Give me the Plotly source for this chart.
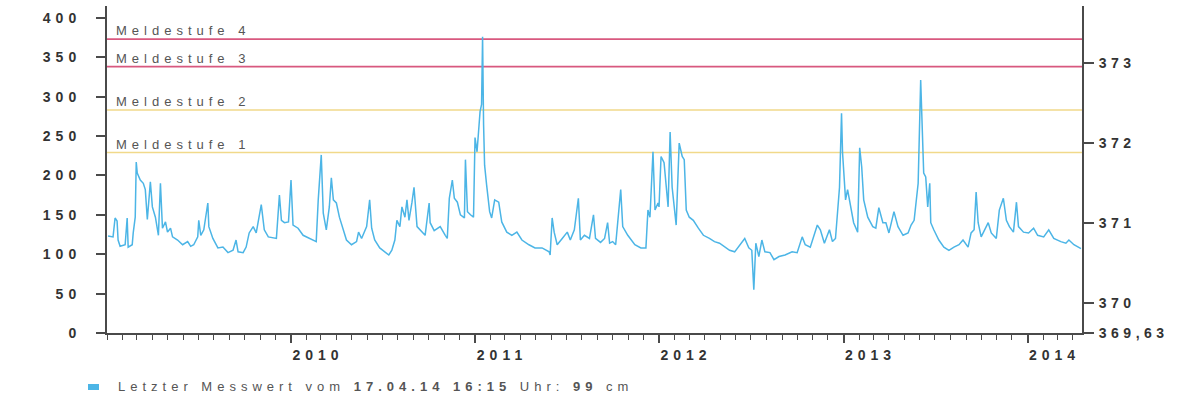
import plotly.graph_objects as go

# ---------------- data: water level (cm) ----------------
dates_2009 = ["2009-01-03","2009-01-13","2009-01-17","2009-01-21","2009-01-23","2009-01-27","2009-02-06","2009-02-10",
              "2009-02-12","2009-02-20","2009-02-22","2009-02-26","2009-02-28","2009-03-02","2009-03-08","2009-03-14",
              "2009-03-18","2009-03-22","2009-03-28","2009-04-01","2009-04-07","2009-04-13","2009-04-17","2009-04-21",
              "2009-04-27","2009-05-01","2009-05-07","2009-05-11","2009-05-21","2009-05-31","2009-06-10","2009-06-16",
              "2009-06-22","2009-06-30","2009-07-02","2009-07-06","2009-07-12","2009-07-20","2009-07-22","2009-07-30",
              "2009-08-09","2009-08-19","2009-08-29","2009-09-08","2009-09-14","2009-09-18","2009-09-28","2009-10-04",
              "2009-10-10","2009-10-18","2009-10-24","2009-11-03","2009-11-09","2009-11-17","2009-12-03","2009-12-09",
              "2009-12-13","2009-12-19","2009-12-27"]
level_2009 = [123,122,146,142,118,110,112,146,
              109,112,127,147,217,203,194,190,
              182,144,192,160,147,124,190,133,
              141,128,133,122,118,112,116,110,
              112,122,143,124,131,165,135,120,
              108,109,102,105,118,103,102,109,
              127,135,127,163,131,122,120,175,
              143,140,141]

dates_2010 = ["2010-01-01","2010-01-05","2010-01-15","2010-01-25","2010-02-06","2010-02-20","2010-02-24","2010-03-02",
              "2010-03-06","2010-03-12","2010-03-18","2010-03-22","2010-03-26","2010-04-01","2010-04-07","2010-04-15",
              "2010-04-21","2010-05-01","2010-05-11","2010-05-15","2010-05-21","2010-05-31","2010-06-06","2010-06-10",
              "2010-06-16","2010-06-26","2010-07-06","2010-07-14","2010-07-20","2010-07-26","2010-07-30","2010-08-05",
              "2010-08-09","2010-08-15","2010-08-19","2010-08-23","2010-08-29","2010-09-02","2010-09-08","2010-09-18",
              "2010-09-24","2010-10-02","2010-10-04","2010-10-12","2010-10-24","2010-11-03","2010-11-07","2010-11-11",
              "2010-11-17","2010-11-21","2010-11-27","2010-12-03","2010-12-11","2010-12-13","2010-12-17","2010-12-23",
              "2010-12-29"]
level_2010 = [194,137,133,124,120,116,169,226,
              152,131,160,197,169,165,147,131,
              118,112,116,128,120,135,169,133,
              118,108,103,99,105,118,143,135,
              160,147,169,143,166,185,135,128,
              124,165,140,130,135,124,120,171,
              194,171,166,150,146,220,154,150,
              147]

dates_2011 = ["2011-01-01","2011-01-05","2011-01-09","2011-01-11","2011-01-14","2011-01-16","2011-01-18","2011-01-20",
              "2011-01-24","2011-01-30","2011-02-03","2011-02-09","2011-02-17","2011-02-23","2011-03-05","2011-03-15",
              "2011-03-25","2011-04-04","2011-04-18","2011-04-30","2011-05-14","2011-05-28","2011-05-30","2011-06-03",
              "2011-06-07","2011-06-13","2011-06-23","2011-07-03","2011-07-09","2011-07-17","2011-07-25","2011-07-29",
              "2011-08-06","2011-08-16","2011-08-24","2011-08-28","2011-09-07","2011-09-15","2011-09-21","2011-09-25",
              "2011-10-01","2011-10-07","2011-10-17","2011-10-21","2011-10-31","2011-11-14","2011-11-26","2011-12-06",
              "2011-12-10","2011-12-14","2011-12-20","2011-12-24","2011-12-30"]
level_2011 = [248,230,264,281,290,376,264,213,
              188,154,146,169,166,141,128,124,
              128,118,112,108,108,103,99,146,
              128,112,120,128,118,131,171,118,
              124,120,150,120,115,120,140,114,
              116,112,182,135,124,112,108,108,
              156,147,230,156,165]

dates_2012 = ["2012-01-01","2012-01-05","2012-01-11","2012-01-19","2012-01-23","2012-01-27","2012-01-31","2012-02-04",
              "2012-02-10","2012-02-16","2012-02-20","2012-02-24","2012-03-01","2012-03-09","2012-03-19","2012-03-29",
              "2012-04-10","2012-04-20","2012-04-30","2012-05-10","2012-05-20","2012-05-30","2012-06-09","2012-06-19",
              "2012-06-27","2012-07-03","2012-07-07","2012-07-11","2012-07-17","2012-07-23","2012-07-29","2012-08-08",
              "2012-08-16","2012-08-26","2012-09-07","2012-09-21","2012-10-01","2012-10-11","2012-10-17","2012-10-27",
              "2012-11-10","2012-11-16","2012-11-24","2012-12-04","2012-12-10","2012-12-16","2012-12-24","2012-12-28",
              "2012-12-30"]
level_2012 = [160,224,216,160,255,185,156,137,
              241,224,220,156,147,143,133,124,
              120,116,114,109,105,103,112,120,
              108,105,55,114,97,118,103,102,
              93,97,99,103,102,122,112,109,
              137,131,114,131,116,120,185,279,
              229]

dates_2013 = ["2013-01-01","2013-01-05","2013-01-09","2013-01-15","2013-01-21","2013-01-29","2013-02-02","2013-02-06",
              "2013-02-10","2013-02-18","2013-02-28","2013-03-06","2013-03-12","2013-03-20","2013-03-26","2013-04-01",
              "2013-04-11","2013-04-19","2013-04-29","2013-05-09","2013-05-15","2013-05-21","2013-05-29","2013-06-03",
              "2013-06-07","2013-06-09","2013-06-13","2013-06-17","2013-06-21","2013-06-23","2013-06-29","2013-07-09",
              "2013-07-19","2013-07-29","2013-08-08","2013-08-18","2013-08-26","2013-09-05","2013-09-11","2013-09-17",
              "2013-09-21","2013-09-25","2013-10-01","2013-10-11","2013-10-15","2013-10-21","2013-10-31","2013-11-06",
              "2013-11-14","2013-11-20","2013-11-26","2013-12-04","2013-12-10","2013-12-14","2013-12-24"]
level_2013 = [207,169,182,160,140,128,235,211,
              169,147,135,133,159,140,140,127,
              154,135,124,127,137,143,190,321,
              249,203,198,160,190,140,131,118,
              109,105,109,112,118,109,127,131,
              179,140,122,135,140,127,120,156,
              171,143,135,128,166,135,128]

dates_2014 = ["2014-01-03","2014-01-13","2014-01-21","2014-02-02","2014-02-12","2014-02-22","2014-03-08","2014-03-18",
              "2014-03-24","2014-04-03","2014-04-17"]
level_2014 = [127,133,124,122,131,120,116,114,
              118,112,107]

meldestufen_names = ["Meldestufe 1", "Meldestufe 2", "Meldestufe 3", "Meldestufe 4"]
meldestufen_cm = [229, 283, 338, 373]

pegelnull_m = 369.63
left_tickvals = [0, 50, 100, 150, 200, 250, 300, 350, 400]
right_tickvals = [369.63, 370, 371, 372, 373]
right_ticklabels = ["369,63", "370", "371", "372", "373"]
year_tickvals = ["2010-01-01", "2011-01-01", "2012-01-01", "2013-01-01", "2014-01-01"]
year_ticklabels = ["2010", "2011", "2012", "2013", "2014"]
legend_text = "Letzter Messwert vom <b>17.04.14 16:15</b> Uhr: <b>99</b> cm"

# ---------------- styling ----------------
BLUE = "#4cb5e6"
PINK = "#d8587f"
YELLOW = "#f1d98a"
AXIS = "#4a4a4a"
FONT = "Liberation Sans"


def spaced(t, px):
    return f"<span style='letter-spacing:{px}px'>{t}</span>"


dates = dates_2009 + dates_2010 + dates_2011 + dates_2012 + dates_2013 + dates_2014
level = level_2009 + level_2010 + level_2011 + level_2012 + level_2013 + level_2014
level_m = [pegelnull_m + v / 100 for v in level]

fig = go.Figure()
fig.add_trace(go.Scatter(x=dates, y=level, mode="lines",
                         line=dict(color=BLUE, width=1.5), hoverinfo="skip", showlegend=False))
# invisible trace so the right-hand (m ü. NN) axis is drawn
fig.add_trace(go.Scatter(x=dates, y=level_m, mode="lines", yaxis="y2", opacity=0,
                         line=dict(width=0), hoverinfo="skip", showlegend=False))

line_colors = [YELLOW, YELLOW, PINK, PINK]
for name, val, col in zip(meldestufen_names, meldestufen_cm, line_colors):
    fig.add_hline(y=val, line=dict(color=col, width=1.6), layer="below")
    fig.add_annotation(x=0, xref="paper", y=val, yref="y", xanchor="left", yanchor="bottom",
                       xshift=7, yshift=-1, showarrow=False,
                       text=spaced(name, 5), font=dict(family=FONT, size=13, color="#555555"))

# legend row
fig.add_shape(type="rect", xref="paper", yref="paper",
              x0=(88 - 107) / 975, x1=(99 - 107) / 975, y0=(333 - 390) / 327, y1=(333 - 384) / 327,
              fillcolor=BLUE, line=dict(width=0))
fig.add_annotation(x=(116 - 107) / 975, xref="paper", y=(333 - 386) / 327, yref="paper",
                   xanchor="left", yanchor="middle", showarrow=False,
                   text=spaced(legend_text, 5), font=dict(family=FONT, size=13, color="#555555"))

tickfont = dict(family=FONT, size=14, color="#333333", weight="bold")

fig.update_layout(
    width=1180, height=395,
    margin=dict(l=107, r=98, t=6, b=62),
    paper_bgcolor="white", plot_bgcolor="white",
    showlegend=False,
    xaxis=dict(type="date", range=["2009-01-01", "2014-04-19"],
               tickmode="array", tickvals=year_tickvals,
               ticktext=[spaced(t, 5) for t in year_ticklabels],
               ticks="outside", ticklen=8, tickwidth=1.5, tickcolor=AXIS,
               ticklabelshift=27, ticklabelstandoff=0,
               showline=True, linecolor=AXIS, linewidth=2,
               showgrid=False, zeroline=False, tickfont=tickfont,
               minor=dict(dtick="M1", tick0="2009-01-01", ticks="outside", ticklen=5,
                          tickwidth=1.3, tickcolor=AXIS, showgrid=False)),
    yaxis=dict(range=[0, 415], tickmode="array", tickvals=left_tickvals,
               ticktext=[spaced(str(v), 5) for v in left_tickvals],
               ticks="outside", ticklen=9, tickwidth=1.5, tickcolor=AXIS,
               ticklabelstandoff=12,
               showline=True, linecolor=AXIS, linewidth=2,
               showgrid=False, zeroline=False, tickfont=tickfont),
    yaxis2=dict(overlaying="y", side="right", range=[pegelnull_m, 373.71],
                tickmode="array", tickvals=right_tickvals,
                ticktext=[spaced(t, 4.5) for t in right_ticklabels],
                ticks="outside", ticklen=10, tickwidth=1.5, tickcolor=AXIS,
                ticklabelstandoff=2,
                showline=True, linecolor=AXIS, linewidth=2,
                showgrid=False, zeroline=False, tickfont=tickfont),
)

# the page's default body margin would shift the 1180x395 figure; remove it
fig.write_html("out.html", config={"displayModeBar": False},
               post_script="document.body.style.margin='0';document.body.style.overflow='hidden';")
